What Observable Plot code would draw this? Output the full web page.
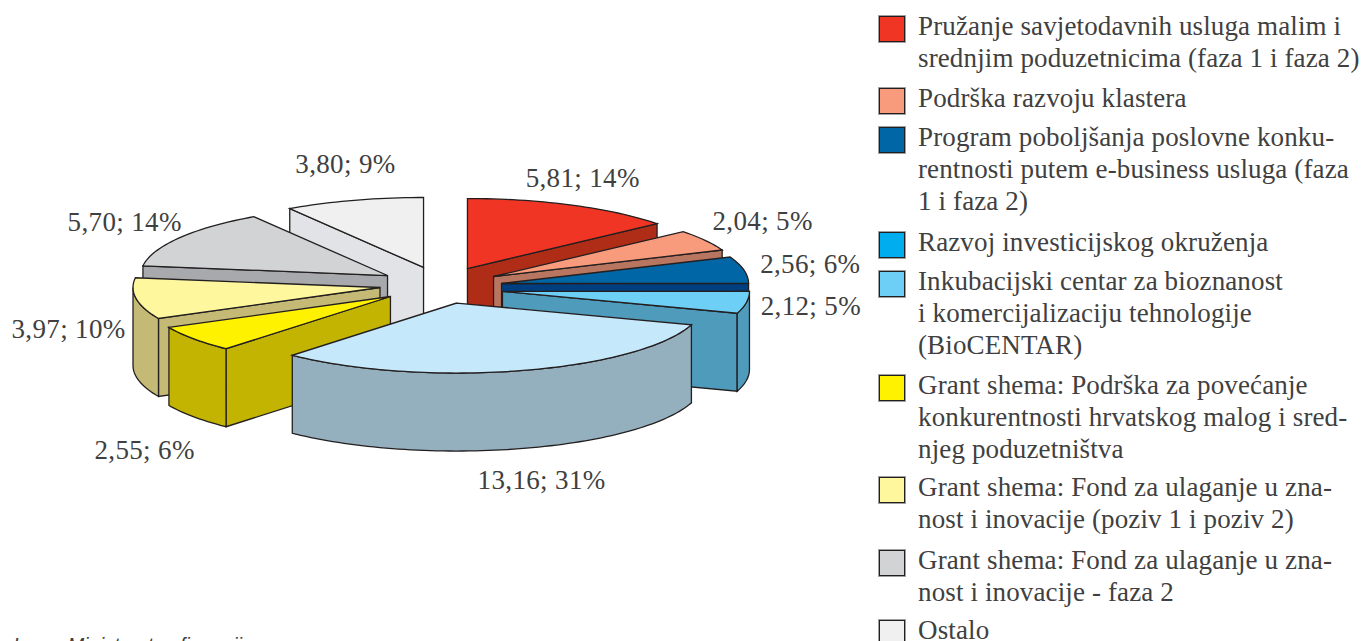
<!DOCTYPE html>
<html lang="hr">
<head>
<meta charset="utf-8">
<script src="https://cdn.jsdelivr.net/npm/d3@7"></script>
<script src="https://cdn.jsdelivr.net/npm/@observablehq/plot@0.6"></script>
<style>
  html, body { margin: 0; padding: 0; width: 1364px; height: 641px; overflow: hidden; background: #fff; }
  #chart { position: absolute; left: 0; top: 0; }
  #legend { position: absolute; left: 878px; top: 10px; width: 486px; font: 27px/32px "Liberation Serif", serif; color: #404040; letter-spacing: 0.13px; }
  .item { display: flex; align-items: flex-start; }
  .sw { flex: none; width: 24px; height: 24px; margin: 6px 13px 0 1px; border: 1.3px solid #231f20; box-shadow: 0 0 0 1px #a0a0a0; }
  .tx { white-space: pre; }
  .last .tx { line-height: 22px; padding-top: 5px; }
  #source { position: absolute; left: 13px; top: 635px; font: italic 20px/20px "Liberation Sans", sans-serif; color: #404040; }
</style>
</head>
<body>
<div id="chart"></div>
<div id="legend"></div>
<div id="source">Izvor: Ministarstvo financija</div>
<script>
const categories = [
  "Pružanje savjetodavnih usluga malim i\nsrednjim poduzetnicima (faza 1 i faza 2)",
  "Podrška razvoju klastera",
  "Program poboljšanja poslovne konku-\nrentnosti putem e-business usluga (faza\n1 i faza 2)",
  "Razvoj investicijskog okruženja",
  "Inkubacijski centar za bioznanost\ni komercijalizaciju tehnologije\n(BioCENTAR)",
  "Grant shema: Podrška za povećanje\nkonkurentnosti hrvatskog malog i sred-\nnjeg poduzetništva",
  "Grant shema: Fond za ulaganje u zna-\nnost i inovacije (poziv 1 i poziv 2)",
  "Grant shema: Fond za ulaganje u zna-\nnost i inovacije - faza 2",
  "Ostalo"
];
const values = [5.81, 2.04, 2.56, 2.12, 13.16, 2.55, 3.97, 5.70, 3.80];
const labels = ["5,81; 14%", "2,04; 5%", "2,56; 6%", "2,12; 5%", "13,16; 31%", "2,55; 6%", "3,97; 10%", "5,70; 14%", "3,80; 9%"];
const legendColors = ["#f03524", "#f89b7c", "#0066a6", "#00aeef", "#6dcff6", "#fff200", "#fff79e", "#d1d3d4", "#f0f0f1"];
const topColors = ["#f03524", "#f89b7c", "#0066a6", "#6dcff6", "#c5e8fa", "#fff200", "#fff79e", "#d1d3d4", "#f0f0f1"];
const sideColors = ["#af2d17", "#b87560", "#003f7f", "#4f9bbc", "#94afbe", "#c2b400", "#c4b975", "#a7a9ac", "#e1e3e6"];
// how far each slice is pulled out of the pie, and in which direction
const pullDist = [0.189, 0.195, 0.223, 0.272, 0.324, 0.325, 0.291, 0.253, 0.210];
const pullAngle = [25.3, 72.9, 101.1, 125.1, 173.4, 225.3, 249.9, 286.3, 332.5];
// where each label sits, in polar pie coordinates
const labelDist = [1.556, 1.53, 1.487, 1.516, 2.88, 2.72, 1.686, 1.548, 1.708];
const labelAngle = [20.6, 56.5, 81, 104, 172.4, 206.8, 245.5, 302.4, 346];
const drawOrder = [8, 7, 6, 5, 0, 1, 2, 3, 4];
const legendGaps = [0, 8, 7, 9, 7, 8, 6, 9, 6];

const pieCx = 447, pieCy = 280, pieRx = 247, pieRy = 70, plotW = 870, plotH = 641;
const depth = 78 / pieRy;
const rad = d => d * Math.PI / 180;
const total = d3.sum(values);
const ends = Array.from(d3.cumsum(values), v => v / total * 360);
const starts = ends.map((e, i) => (i ? ends[i - 1] : 0));

const faces = [];
for (const i of drawOrder) {
  const ax = pullDist[i] * Math.sin(rad(pullAngle[i]));
  const ay = pullDist[i] * Math.cos(rad(pullAngle[i]));
  const rim = a => [ax + Math.sin(rad(a)), ay + Math.cos(rad(a))];
  const a0 = starts[i], a1 = ends[i];
  const angs = d3.range(a0, a1, 1.5).concat([a1]);
  const add = (pts, fill, id) => pts.forEach(([x, y]) => faces.push({x, y, fill, id: `${i}-${id}`}));
  const wall = (p, q, id) => add([p, q, [q[0], q[1] - depth], [p[0], p[1] - depth]], sideColors[i], id);
  if (Math.sin(rad(a0)) < 0) wall([ax, ay], rim(a0), "s");
  if (Math.sin(rad(a1)) > 0) wall([ax, ay], rim(a1), "e");
  const front = angs.filter(a => a >= 90 && a <= 270);
  if (front.length) {
    const lo = Math.max(a0, 90), hi = Math.min(a1, 270);
    const arc = [lo, ...front.filter(a => a > lo && a < hi), hi].map(rim);
    add([...arc, ...arc.slice().reverse().map(p => [p[0], p[1] - depth])], sideColors[i], "r");
  }
  add([[ax, ay], ...angs.map(rim)], topColors[i], "t");
}

const labelData = labels.map((text, i) => ({
  text,
  x: labelDist[i] * Math.sin(rad(labelAngle[i])),
  y: labelDist[i] * Math.cos(rad(labelAngle[i]))
}));

const chart = Plot.plot({
  width: plotW, height: plotH, margin: 0,
  style: {letterSpacing: "0.35px"},
  x: {domain: [-pieCx / pieRx, (plotW - pieCx) / pieRx], range: [0, plotW], axis: null},
  y: {domain: [(pieCy - plotH) / pieRy, pieCy / pieRy], range: [plotH, 0], axis: null},
  color: {type: "identity"},
  marks: [
    Plot.line(faces, {x: "x", y: "y", z: "id", fill: d => d.fill, stroke: "#231f20", strokeWidth: 1.3, strokeLinejoin: "miter", strokeMiterlimit: 4, curve: "linear-closed"}),
    Plot.text(labelData, {x: "x", y: "y", text: "text", fontSize: 27, fontFamily: "Liberation Serif", fill: "#404040", textAnchor: "middle"})
  ]
});
document.getElementById("chart").append(chart);

const legend = d3.select("#legend");
categories.forEach((c, i) => {
  const it = legend.append("div").attr("class", i === categories.length - 1 ? "item last" : "item").style("margin-top", legendGaps[i] + "px");
  it.append("div").attr("class", "sw").style("background", legendColors[i]);
  it.append("div").attr("class", "tx").text(c);
});
</script>
</body>
</html>
